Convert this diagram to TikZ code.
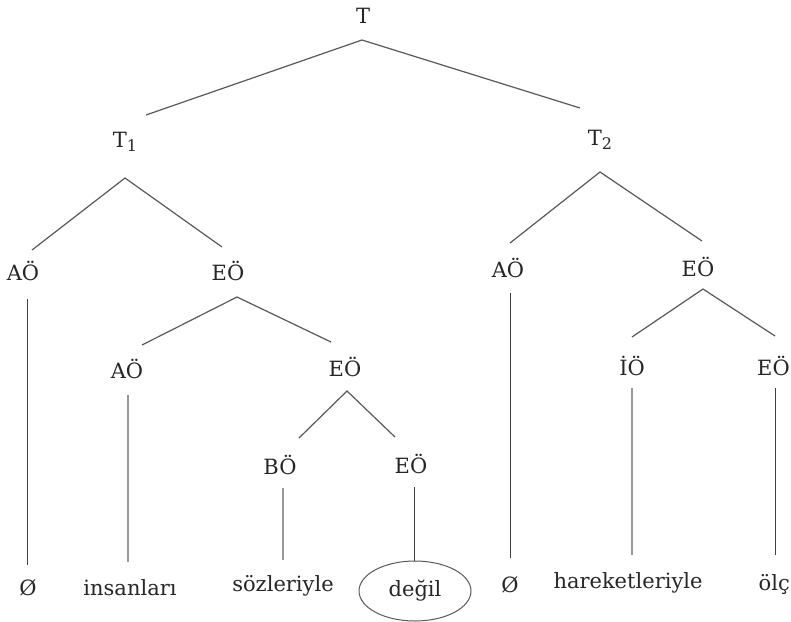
\documentclass[tikz,border=0pt]{standalone}
\usepackage{fontspec}
\setmainfont{DejaVu Serif}
\usetikzlibrary{shapes.geometric}
\begin{document}
\begin{tikzpicture}[x=1pt,y=-1pt,
  lbl/.style={font=\fontsize{21}{24}\selectfont, text=black!85, inner sep=0pt, anchor=center},
  edge/.style={draw=black!65, line width=1.2pt},
  lightedge/.style={draw=black!40, line width=1.6pt}]
\useasboundingbox (0,0) rectangle (791,621);
\clip (0,0) rectangle (791,621);
\fill[white] (0,0) rectangle (791,621);
% labels
\node[lbl] (T)  at (363,16) {T};
\node[lbl] (T1) at (125,142) {T\raisebox{-4pt}{\fontsize{16}{16}\selectfont 1}};
\node[lbl] (T2) at (600,140) {T\raisebox{-4pt}{\fontsize{16}{16}\selectfont 2}};
\node[lbl] (AOa) at (23,271) {AÖ};
\node[lbl] (EOa) at (228,271) {EÖ};
\node[lbl] (AOb) at (508,268) {AÖ};
\node[lbl] (EOb) at (698,267) {EÖ};
\node[lbl] (AOc) at (127,369) {AÖ};
\node[lbl] (EOc) at (345,367) {EÖ};
\node[lbl] (IO)  at (632,366) {İÖ};
\node[lbl,anchor=west] (EOd) at (757,366) {EÖ};
\node[lbl] (BO)  at (280,465) {BÖ};
\node[lbl] (EOe) at (411,464) {EÖ};
% leaves
\node[lbl] (Z1)  at (28,588) {Ø};
\node[lbl] (ins) at (130,588) {insanları};
\node[lbl] (soz) at (283,586) {sözleriyle};
\node[lbl,ellipse,draw=black!65,line width=1pt,minimum width=112pt,minimum height=60pt] (deg) at (415,591) {değil};
\node[lbl] (Z2)  at (510,585) {Ø};
\node[lbl] (har) at (628,583) {hareketleriyle};
\node[lbl,anchor=east] (olc) at (790,584) {ölç};
% edge end points
\coordinate (tA) at (362,40);  \coordinate (tL) at (146,115); \coordinate (tR) at (580,108);
\coordinate (t1A) at (125,178); \coordinate (t1L) at (32,250); \coordinate (t1R) at (222,247);
\coordinate (t2A) at (600,172); \coordinate (t2L) at (510,243); \coordinate (t2R) at (702,241);
\coordinate (eaA) at (237,297); \coordinate (eaL) at (142,345); \coordinate (eaR) at (331,342);
\coordinate (ebA) at (703,289); \coordinate (ebL) at (632,337); \coordinate (ebR) at (775,336);
\coordinate (ecA) at (347,391); \coordinate (ecL) at (299,438); \coordinate (ecR) at (395,437);
\coordinate (aoaB) at (27.5,299);  \coordinate (z1T) at (27.5,565);
\coordinate (aocB) at (128,395); \coordinate (insT) at (128,562);
\coordinate (boB) at (283,488);  \coordinate (sozT) at (283,560);
\coordinate (eoeB) at (414.5,487);
\coordinate (aobB) at (510.5,293); \coordinate (z2T) at (510.5,558);
\coordinate (ioB) at (632,388);  \coordinate (harT) at (632,555);
\coordinate (eodB) at (775.5,388); \coordinate (olcT) at (775.5,555);
% edges
\draw[edge] (tL) -- (tA) -- (tR);
\draw[edge] (t1L) -- (t1A) -- (t1R);
\draw[edge] (t2L) -- (t2A) -- (t2R);
\draw[edge] (eaL) -- (eaA) -- (eaR);
\draw[edge] (ebL) -- (ebA) -- (ebR);
\draw[edge] (ecL) -- (ecA) -- (ecR);
\draw[edge,draw=black!75] (aoaB) -- (z1T);
\draw[lightedge] (aocB) -- (insT);
\draw[lightedge] (boB) -- (sozT);
\draw[edge,draw=black!75] (eoeB) -- (eoeB |- deg.north);
\draw[edge,draw=black!75] (aobB) -- (z2T);
\draw[lightedge] (ioB) -- (harT);
\draw[edge,draw=black!75] (eodB) -- (olcT);
\end{tikzpicture}
\end{document}
